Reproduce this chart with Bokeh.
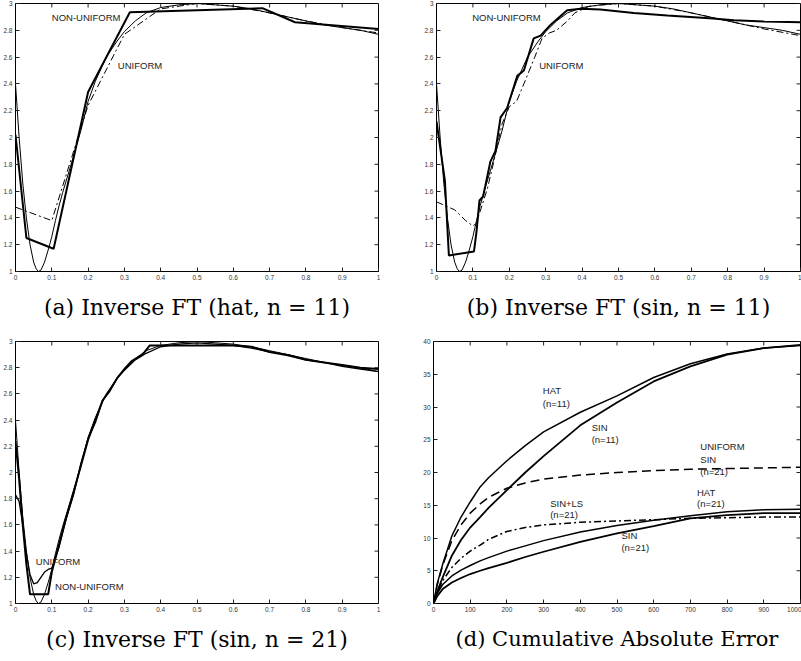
import math
from bokeh.plotting import figure
from bokeh.layouts import column, row
from bokeh.models import Range1d, FixedTicker, Title
from bokeh.core.properties import value
from bokeh.embed import file_html
from bokeh.resources import INLINE

# ---------------- data ----------------
x_ticks = [0, 0.1, 0.2, 0.3, 0.4, 0.5, 0.6, 0.7, 0.8, 0.9, 1.0]
x_tick_labels = ["0", "0.1", "0.2", "0.3", "0.4", "0.5", "0.6", "0.7", "0.8", "0.9", "1"]
y_ticks = [1.0, 1.2, 1.4, 1.6, 1.8, 2.0, 2.2, 2.4, 2.6, 2.8, 3.0]
y_tick_labels = ["1", "1.2", "1.4", "1.6", "1.8", "2", "2.2", "2.4", "2.6", "2.8", "3"]
d_x_ticks = [0, 100, 200, 300, 400, 500, 600, 700, 800, 900, 1000]
d_y_ticks = [0, 5, 10, 15, 20, 25, 30, 35, 40]

# true signal (thin line, panels a-c)
true_x = [0, 0.01, 0.02, 0.03, 0.04, 0.05, 0.057, 0.063, 0.07, 0.08, 0.09, 0.1, 0.11, 0.12,
          0.13, 0.15, 0.18, 0.2, 0.22, 0.25, 0.28, 0.3, 0.33, 0.36, 0.4, 0.45, 0.5, 0.55,
          0.6, 0.65, 0.7, 0.75, 0.8, 0.85, 0.9, 0.95, 1.0]
true_y = [2.4, 2.0, 1.66, 1.4, 1.2, 1.07, 1.02, 1.0, 1.01, 1.07, 1.16, 1.26, 1.38, 1.49,
          1.59, 1.77, 2.05, 2.27, 2.42, 2.6, 2.72, 2.79, 2.87, 2.93, 2.97, 2.99, 3.0, 2.99,
          2.98, 2.96, 2.93, 2.9, 2.87, 2.84, 2.82, 2.8, 2.77]

# (a) hat, n = 11
a_nonuni_x = [0, 0.03, 0.105, 0.2, 0.315, 0.68, 0.77, 1.0]
a_nonuni_y = [2.02, 1.25, 1.17, 2.34, 2.935, 2.965, 2.86, 2.81]
a_uni_x = [0, 0.1, 0.2, 0.3, 0.4, 0.5, 0.6, 0.7, 0.8, 0.9, 1.0]
a_uni_y = [1.48, 1.38, 2.24, 2.77, 2.96, 3.0, 2.98, 2.93, 2.87, 2.82, 2.78]

# (b) sin, n = 11
b_nonuni_x = [0, 0.023, 0.034, 0.103, 0.11, 0.118, 0.128, 0.148, 0.162, 0.176, 0.194, 0.222,
              0.24, 0.267, 0.286, 0.313, 0.359, 0.396, 0.45, 0.542, 0.634, 0.75, 0.817, 0.9, 1.0]
b_nonuni_y = [2.12, 1.68, 1.12, 1.15, 1.3, 1.53, 1.56, 1.82, 1.9, 2.15, 2.22, 2.46,
              2.5, 2.74, 2.76, 2.84, 2.95, 2.96, 2.955, 2.93, 2.91, 2.89, 2.875, 2.865, 2.86]
b_uni_x = [0, 0.05, 0.08, 0.1, 0.11, 0.12, 0.14, 0.16, 0.18, 0.2, 0.22, 0.24, 0.27, 0.29,
           0.31, 0.33, 0.36, 0.38, 0.42, 0.5, 0.6, 0.7, 0.8, 0.9, 1.0]
b_uni_y = [1.52, 1.46, 1.38, 1.34, 1.36, 1.45, 1.62, 1.85, 2.1, 2.23, 2.27, 2.4, 2.6, 2.74,
           2.78, 2.8, 2.87, 2.93, 2.98, 3.0, 2.98, 2.93, 2.87, 2.81, 2.76]

# (c) sin, n = 21
c_nonuni_x = [0, 0.01, 0.02, 0.03, 0.04, 0.09, 0.1, 0.12, 0.14, 0.16, 0.18, 0.2, 0.22, 0.24,
              0.26, 0.28, 0.3, 0.32, 0.35, 0.37, 0.6, 0.65, 0.7, 0.75, 0.8, 0.85, 0.9, 0.95, 1.0]
c_nonuni_y = [2.24, 1.95, 1.6, 1.3, 1.07, 1.07, 1.24, 1.45, 1.66, 1.85, 2.05, 2.25, 2.4, 2.55,
              2.63, 2.72, 2.79, 2.85, 2.9, 2.97, 2.97, 2.96, 2.92, 2.895, 2.86, 2.84, 2.82, 2.8, 2.79]
c_uni_x = [0, 0.01, 0.02, 0.03, 0.04, 0.05, 0.06, 0.07, 0.08, 0.09, 0.1, 0.12, 0.14, 0.16,
           0.18, 0.2, 0.22, 0.24, 0.26, 0.28, 0.3, 0.33, 0.36, 0.4, 0.45, 0.5, 0.55, 0.6,
           0.65, 0.7, 0.75, 0.8, 0.85, 0.9, 0.95, 1.0]
c_uni_y = [1.83, 1.78, 1.6, 1.38, 1.22, 1.15, 1.16, 1.2, 1.24, 1.26, 1.27, 1.43, 1.65, 1.83,
           2.07, 2.26, 2.38, 2.55, 2.62, 2.72, 2.78, 2.86, 2.91, 2.96, 2.98, 2.99, 2.98, 2.97,
           2.95, 2.92, 2.9, 2.86, 2.84, 2.81, 2.79, 2.77]

# (d) cumulative absolute error
d_x = [0, 10, 25, 50, 75, 100, 127, 150, 200, 250, 300, 400, 500, 600, 700, 800, 900, 1000]
d_hat11 = [0, 3.0, 6.0, 10.3, 13.2, 15.5, 17.8, 19.2, 21.8, 24.1, 26.2, 29.2, 31.7, 34.5, 36.6, 38.1, 39.0, 39.4]
d_sin11 = [0, 1.8, 4.0, 7.3, 9.7, 11.6, 13.2, 14.6, 17.3, 20.0, 22.5, 27.2, 30.7, 33.9, 36.2, 38.0, 39.0, 39.5]
d_uni21 = [0, 2.8, 5.8, 9.6, 12.0, 13.8, 15.2, 16.2, 17.6, 18.4, 19.0, 19.6, 20.0, 20.3, 20.5, 20.6, 20.7, 20.8]
d_sinls21 = [0, 1.6, 3.5, 5.5, 6.9, 8.0, 8.9, 9.8, 11.0, 11.6, 12.0, 12.4, 12.6, 12.8, 13.0, 13.1, 13.2, 13.2]
d_hat21 = [0, 1.5, 2.9, 4.2, 5.1, 5.8, 6.5, 7.0, 8.0, 8.8, 9.6, 10.9, 11.9, 12.7, 13.4, 14.0, 14.3, 14.4]
d_sin21 = [0, 1.1, 2.2, 3.2, 3.9, 4.5, 5.0, 5.4, 6.2, 7.1, 7.9, 9.4, 10.7, 11.8, 13.0, 13.5, 13.8, 13.8]

a_labels = ["NON-UNIFORM", "UNIFORM"]
a_label_x = [0.1, 0.282]
a_label_y = [2.895, 2.534]
b_labels = ["NON-UNIFORM", "UNIFORM"]
b_label_x = [0.098, 0.282]
b_label_y = [2.895, 2.534]
c_labels = ["UNIFORM", "NON-UNIFORM"]
c_label_x = [0.056, 0.109]
c_label_y = [1.32, 1.13]
d_labels = ["HAT", "(n=11)", "SIN", "(n=11)", "UNIFORM", "SIN", "(n=21)",
            "HAT", "(n=21)", "SIN+LS", "(n=21)", "SIN", "(n=21)"]
d_label_x = [298, 298, 431, 431, 727, 727, 727, 718, 718, 318, 318, 512, 512]
d_label_y = [32.5, 30.5, 26.8, 25.0, 23.9, 22.0, 20.2, 16.9, 15.3, 15.3, 13.6, 10.4, 8.5]

captions = ["(a) Inverse FT (hat, n = 11)", "(b) Inverse FT (sin, n = 11)",
            "(c) Inverse FT (sin, n = 21)", "(d) Cumulative Absolute Error"]

TICK_FONT = "Liberation Sans"
CAP_FONT = "DejaVu Serif"


def make_fig(w, h, bl, br, bt, bb, xr, yr, xt, yt, xlab=None, ylab=None, caption="",
             cap_standoff=10, cap_size="22px"):
    p = figure(width=w, height=h, output_backend="svg", toolbar_location=None,
               x_range=Range1d(*xr), y_range=Range1d(*yr),
               min_border_left=bl, min_border_right=br, min_border_top=bt,
               min_border_bottom=bb)
    p.xgrid.visible = False
    p.ygrid.visible = False
    p.outline_line_color = "black"
    p.outline_line_width = 1
    p.background_fill_color = "white"
    p.border_fill_color = "white"
    for ax, ticks, labs in ((p.xaxis[0], xt, xlab), (p.yaxis[0], yt, ylab)):
        ax.ticker = FixedTicker(ticks=ticks)
        if labs is not None:
            ax.major_label_overrides = dict(zip(ticks, labs))
        ax.major_tick_in = 4
        ax.major_tick_out = 0
        ax.minor_tick_line_color = None
        ax.axis_line_color = "black"
        ax.major_tick_line_color = "#222222"
        ax.major_label_text_font = TICK_FONT
        ax.major_label_text_font_size = "6.5px"
        ax.major_label_text_color = "#333333"
        ax.major_label_standoff = 3
    # mirrored inward ticks on the top and right edges of the frame
    p.ray(x=list(xt), y=[yr[1]] * len(xt), length=4, length_units="screen",
          angle=-math.pi / 2, line_color="#222222", line_width=1)
    p.ray(x=[xr[1]] * len(yt), y=list(yt), length=4, length_units="screen",
          angle=math.pi, line_color="#222222", line_width=1)
    p.add_layout(Title(text=caption, align="center", text_font=CAP_FONT,
                       text_font_size=cap_size, text_font_style="normal",
                       text_color="black", standoff=cap_standoff), "below")
    return p


def add_labels(p, xs, ys, texts):
    p.text(x=xs, y=ys, text=texts, text_font=value(TICK_FONT), text_font_size="9.5px",
           text_baseline="middle", text_align="left", text_color="#222222")


# (a)
pa = make_fig(400, 330, 13, 22, 3, 59, (0, 1), (1, 3), x_ticks, y_ticks,
              x_tick_labels, y_tick_labels, captions[0], 20)
pa.line(true_x, true_y, line_color="black", line_width=1)
pa.line(a_nonuni_x, a_nonuni_y, line_color="black", line_width=2)
pa.line(a_uni_x, a_uni_y, line_color="black", line_width=1, line_dash="7 3 2 3")
add_labels(pa, a_label_x, a_label_y, a_labels)

# (b)
pb = make_fig(401, 330, 36, 1, 3, 59, (0, 1), (1, 3), x_ticks, y_ticks,
              x_tick_labels, y_tick_labels, captions[1], 20)
pb.line(true_x, true_y, line_color="black", line_width=1)
pb.line(b_nonuni_x, b_nonuni_y, line_color="black", line_width=2)
pb.line(b_uni_x, b_uni_y, line_color="black", line_width=1, line_dash="7 3 2 3")
add_labels(pb, b_label_x, b_label_y, b_labels)

# (c)
pc = make_fig(400, 331, 13, 22, 11, 51, (0, 1), (1, 3), x_ticks, y_ticks,
              x_tick_labels, y_tick_labels, captions[2], 20)
pc.line(true_x, true_y, line_color="black", line_width=1)
pc.line(c_nonuni_x, c_nonuni_y, line_color="black", line_width=2)
pc.line(c_uni_x, c_uni_y, line_color="black", line_width=1.3)
add_labels(pc, c_label_x, c_label_y, c_labels)

# (d)
pd_ = make_fig(401, 331, 33, 1, 7, 54, (0, 1000), (0, 40), d_x_ticks, d_y_ticks,
               None, None, captions[3], 21, "21px")
pd_.line(d_x, d_hat11, line_color="black", line_width=1.5)
pd_.line(d_x, d_sin11, line_color="black", line_width=1.8)
pd_.line(d_x, d_uni21, line_color="black", line_width=1.5, line_dash="9 5")
pd_.line(d_x, d_sinls21, line_color="black", line_width=1.5, line_dash="7 3 2 3")
pd_.line(d_x, d_hat21, line_color="black", line_width=1.5)
pd_.line(d_x, d_sin21, line_color="black", line_width=1.8)
add_labels(pd_, d_label_x, d_label_y, d_labels)

layout = column(row(pa, pb), row(pc, pd_))
open("out.html", "w").write(file_html(layout, INLINE))
